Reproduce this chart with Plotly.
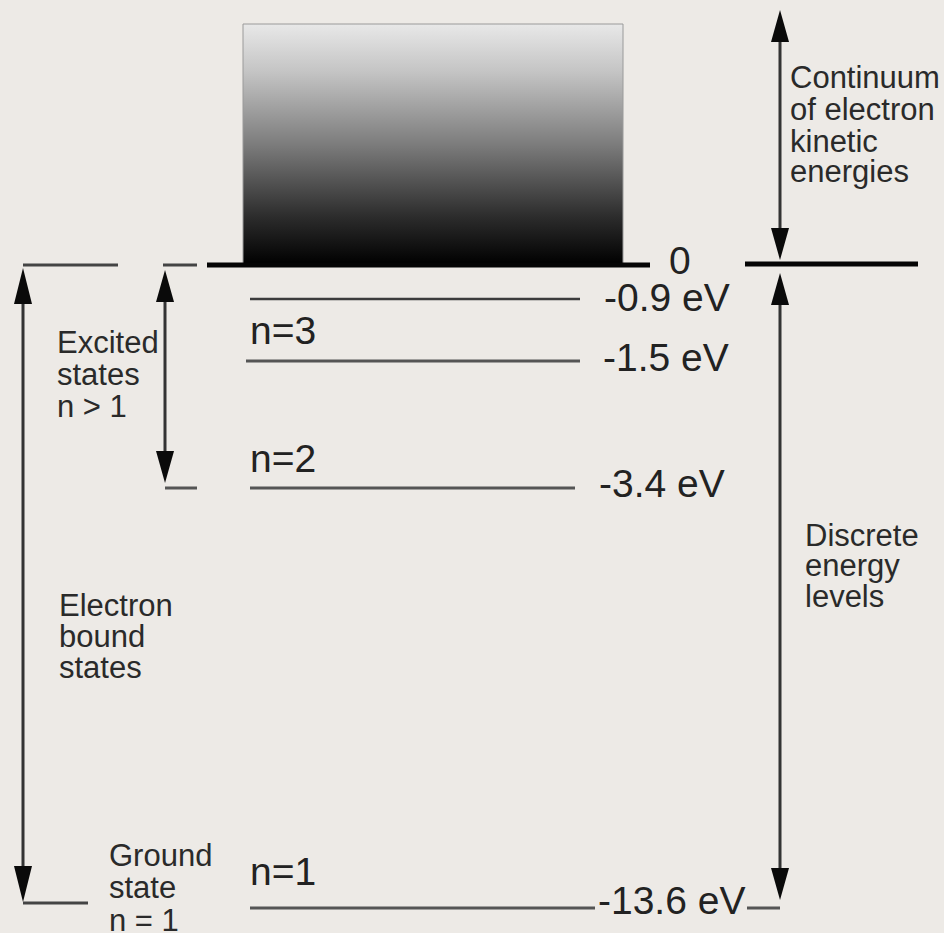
import plotly.graph_objects as go

# ---------------- data ----------------
level_energies_eV = [0.0, -0.9, -1.5, -3.4, -13.6]
level_value_labels = ["0", "-0.9 eV", "-1.5 eV", "-3.4 eV", "-13.6 eV"]
level_n_labels = ["", "", "n=3", "n=2", "n=1"]

continuum_label = ["Continuum", "of electron", "kinetic", "energies"]
discrete_label = ["Discrete", "energy", "levels"]
bound_label = ["Electron", "bound", "states"]
excited_label = ["Excited", "states", "n > 1"]
ground_label = ["Ground", "state", "n = 1"]

# ---------------- schematic layout (drawing units = pixels) ----------------
W, H = 944, 933
BG = "#EDEAE6"
FONT = "Liberation Sans, Arial, Helvetica, sans-serif"
level_pos = {0.0: 265, -0.9: 299, -1.5: 361, -3.4: 488, -13.6: 908}
level_x = {0.0: (207, 650), -0.9: (250, 580), -1.5: (246, 580), -3.4: (250, 575), -13.6: (250, 595)}
level_style = {0.0: (5, "#050505"), -0.9: (2.5, "#3c3c3c"), -1.5: (3, "#555"),
               -3.4: (3, "#555"), -13.6: (3, "#555")}
value_label_x = {0.0: 667, -0.9: 602, -1.5: 601, -3.4: 597, -13.6: 596}
value_label_dy = {0.0: -5, -0.9: -2, -1.5: -4, -3.4: -5, -13.6: -8}
n_label_dy = {-1.5: -31, -3.4: -30, -13.6: -37}

fig = go.Figure()

# continuum gradient block
box_x0, box_x1, box_top = 243, 623, 24
fig.add_trace(go.Scatter(
    x=[box_x0, box_x1, box_x1, box_x0, box_x0],
    y=[level_pos[0.0], level_pos[0.0], box_top, box_top, level_pos[0.0]],
    mode="lines", fill="toself",
    line=dict(color="#9a9a9a", width=1),
    fillgradient=dict(type="vertical",
                      colorscale=[[0, "#e8e8e8"], [0.2, "#c4c4c4"], [0.5, "#7c7c7c"],
                                  [0.8, "#2c2c2c"], [1, "#000000"]],
                      start=box_top, stop=level_pos[0.0]),
    hoverinfo="skip", showlegend=False))

annotations = []


def text(x, y, s, size, color="#2a2a2a"):
    annotations.append(dict(x=x, y=y, xref="x", yref="y", text=s, showarrow=False,
                            xanchor="left", yanchor="middle",
                            font=dict(family=FONT, size=size, color=color)))


def hline(x0, x1, y, width=3, color="#444"):
    fig.add_trace(go.Scatter(x=[x0, x1], y=[y, y], mode="lines",
                             line=dict(color=color, width=width),
                             hoverinfo="skip", showlegend=False))


# energy levels
for E, vlab, nlab in zip(level_energies_eV, level_value_labels, level_n_labels):
    y = level_pos[E]
    x0, x1 = level_x[E]
    w, c = level_style[E]
    hline(x0, x1, y, w, c)
    text(value_label_x[E], y + value_label_dy[E], vlab, 39, "#222")
    if nlab:
        text(248, y + n_label_dy[E], nlab, 39, "#222")

# right part of zero line and the -13.6 tail
hline(745, 918, level_pos[0.0] - 1, 5, "#050505")
hline(747, 780, level_pos[-13.6], 3, "#555")

# left brackets
hline(23, 118, level_pos[0.0], 3, "#444")
hline(23, 88, 903, 3, "#444")
hline(163, 197, level_pos[0.0], 3, "#444")
hline(165, 197, level_pos[-3.4], 3, "#555")

shapes = []


def double_arrow(x, y_top, y_bot, head_len=32, head_w=18, color="#333"):
    fig.add_trace(go.Scatter(x=[x, x], y=[y_top + head_len - 2, y_bot - head_len + 2],
                             mode="lines", line=dict(color=color, width=3),
                             hoverinfo="skip", showlegend=False))
    hw = head_w / 2
    shapes.append(dict(type="path", xref="x", yref="y",
                       path=f"M{x},{y_top} L{x - hw},{y_top + head_len} L{x + hw},{y_top + head_len} Z",
                       fillcolor="#0a0a0a", line=dict(width=0)))
    shapes.append(dict(type="path", xref="x", yref="y",
                       path=f"M{x},{y_bot} L{x - hw},{y_bot - head_len} L{x + hw},{y_bot - head_len} Z",
                       fillcolor="#0a0a0a", line=dict(width=0)))


double_arrow(23, 268, 902, head_len=36)
double_arrow(165, 270, 483)
double_arrow(780, 10, 260)
double_arrow(780, 273, 900)

# region labels
for lines, x, ys in [
    (continuum_label, 788, [77, 109, 141, 171]),
    (discrete_label, 803, [535, 565, 596]),
    (bound_label, 57, [605, 636, 667]),
    (excited_label, 55, [342, 374, 406]),
    (ground_label, 107, [855, 887, 920]),
]:
    for s, y in zip(lines, ys):
        text(x, y, s, 31)

fig.update_layout(
    width=W, height=H, margin=dict(l=0, r=0, t=0, b=0),
    paper_bgcolor=BG, plot_bgcolor=BG,
    xaxis=dict(range=[0, W], visible=False, fixedrange=True),
    yaxis=dict(range=[H, 0], visible=False, fixedrange=True),
    annotations=annotations, shapes=shapes, showlegend=False,
)

fig.write_html("out.html", config={"displayModeBar": False})

# remove the browser's default page margin so the figure fills the window
with open("out.html", encoding="utf-8") as f:
    html = f.read()
html = html.replace("<body>", '<body style="margin:0;padding:0;overflow:hidden;background:%s">' % BG, 1)
with open("out.html", "w", encoding="utf-8") as f:
    f.write(html)
